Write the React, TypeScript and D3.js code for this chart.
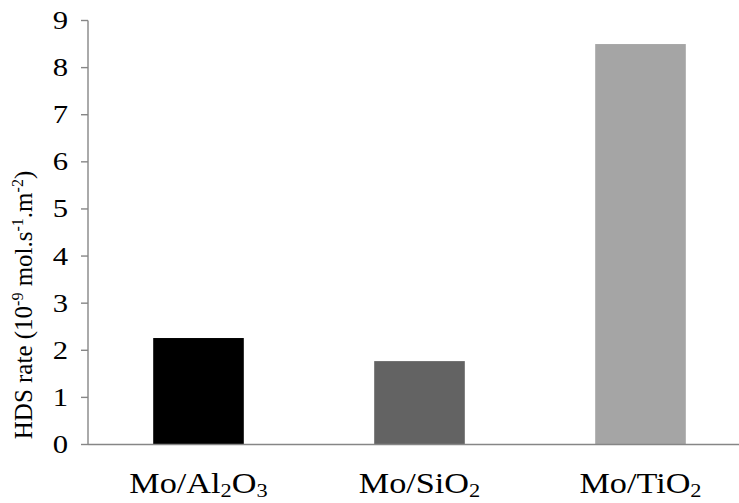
import * as d3 from 'd3';
import React, { useEffect, useRef } from 'react';

const categories = ['Mo/Al2O3', 'Mo/SiO2', 'Mo/TiO2'];
const values = [2.26, 1.77, 8.5];
const barColors = ['#000000', '#636363', '#a5a5a5'];
const yTicks = [0, 1, 2, 3, 4, 5, 6, 7, 8, 9];

const width = 739;
const height = 503;
const axisLeft = 88;
const axisBottom = 444.5;
const axisTop = 20.5;
const axisColor = '#868686';
const font = "'Liberation Serif', 'Times New Roman', Tinos, serif";

const App: React.FC = () => {
  const svgRef = useRef<SVGSVGElement>(null);
  useEffect(() => {
    if (!svgRef.current) return;
    const svg = d3.select(svgRef.current);
    svg.selectAll('*').remove();

    const xScale = d3
      .scaleBand<string>()
      .domain(categories)
      .range([axisLeft, 751])
      .paddingInner(0.59)
      .paddingOuter(0.295);
    const yScale = d3.scaleLinear().domain([0, 9]).range([axisBottom, axisTop]);

    // bars
    svg
      .selectAll('.bar')
      .data(values)
      .enter()
      .append('rect')
      .attr('class', 'bar')
      .attr('x', (_, i) => xScale(categories[i])!)
      .attr('y', (d) => yScale(d))
      .attr('width', xScale.bandwidth())
      .attr('height', (d) => axisBottom - yScale(d))
      .attr('fill', (_, i) => barColors[i]);

    // y axis line + ticks
    svg
      .append('line')
      .attr('x1', axisLeft)
      .attr('x2', axisLeft)
      .attr('y1', yScale(9))
      .attr('y2', axisBottom)
      .attr('stroke', axisColor)
      .attr('stroke-width', 1.4);
    svg
      .selectAll('.ytick')
      .data(yTicks)
      .enter()
      .append('line')
      .attr('x1', axisLeft - 7)
      .attr('x2', axisLeft)
      .attr('y1', (d) => yScale(d))
      .attr('y2', (d) => yScale(d))
      .attr('stroke', axisColor)
      .attr('stroke-width', 1.4);
    svg
      .selectAll('.ylabel')
      .data(yTicks)
      .enter()
      .append('text')
      .attr('transform', (d) => `translate(68,${yScale(d) + 8.5}) scale(1.18,1)`)
      .attr('text-anchor', 'end')
      .style('font-family', font)
      .attr('font-size', 26)
      .attr('fill', '#000')
      .text((d) => d);

    // x axis line
    svg
      .append('line')
      .attr('x1', axisLeft)
      .attr('x2', width)
      .attr('y1', axisBottom)
      .attr('y2', axisBottom)
      .attr('stroke', axisColor)
      .attr('stroke-width', 1.4);

    // category labels, digits as subscripts
    categories.forEach((c) => {
      const cx = xScale(c)! + xScale.bandwidth() / 2;
      const t = svg
        .append('text')
        .attr('transform', `translate(${cx},493) scale(1.18,1)`)
        .attr('text-anchor', 'middle')
        .style('font-family', font)
        .attr('font-size', 29)
        .attr('fill', '#000');
      const parts = c.split(/(\d+)/).filter((p) => p.length);
      let sub = false;
      parts.forEach((p) => {
        const isDigit = /^\d+$/.test(p);
        const ts = t.append('tspan').text(p);
        if (isDigit) {
          ts.attr('font-size', 19).attr('dy', 4);
          sub = true;
        } else if (sub) {
          ts.attr('dy', -4);
          sub = false;
        }
      });
    });

    // y title
    const title = svg
      .append('text')
      .attr('transform', 'translate(32,305) rotate(-90)')
      .attr('text-anchor', 'middle')
      .style('font-family', font)
      .attr('font-size', 25)
      .attr('fill', '#000');
    const titleParts: [string, boolean][] = [
      ['HDS rate (10', false],
      ['-9', true],
      [' mol.s', false],
      ['-1', true],
      ['.m', false],
      ['-2', true],
      [')', false],
    ];
    titleParts.forEach(([p, sup], i) => {
      const ts = title.append('tspan').text(p);
      if (sup) ts.attr('font-size', 16).attr('dy', -9);
      else if (i > 0) ts.attr('dy', 9);
    });
  }, []);
  return (
    <svg
      ref={svgRef}
      width={width}
      height={height}
      viewBox={`0 0 ${width} ${height}`}
      style={{ position: 'absolute', left: 0, top: 0, background: '#fff' }}
    />
  );
};

export default App;
